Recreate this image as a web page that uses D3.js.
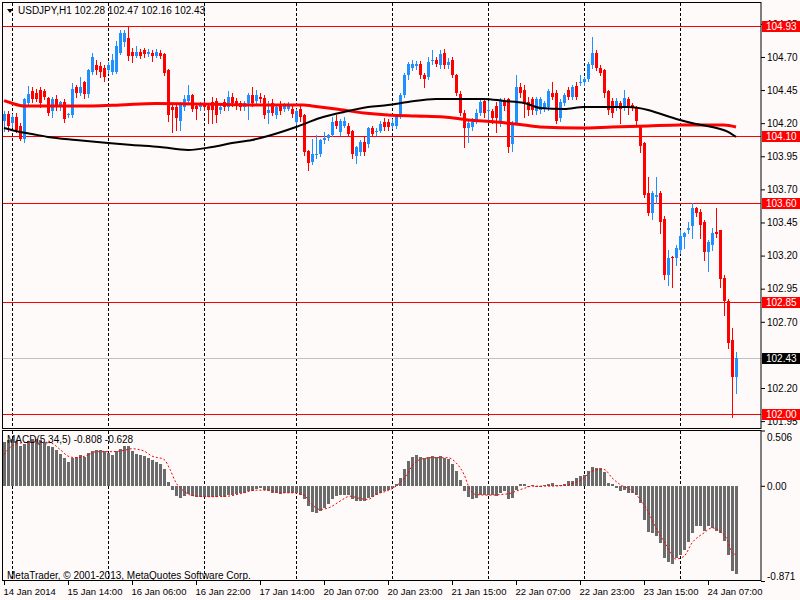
<!DOCTYPE html>
<html>
<head>
<meta charset="utf-8">
<script src="https://cdn.jsdelivr.net/npm/d3@7"></script>
<style>
body { margin: 0; background: #fffafa; }
text { font-family: "Liberation Sans", Arial, sans-serif; }
</style>
</head>
<body>
<div id="chart"></div>
<script>
// hourly candles, bar 0 = 14 Jan 22:00
var opens = [
104.22,104.27,104.20,104.25,104.18,104.08,104.35,104.44,104.43,104.45,
104.44,104.39,104.29,104.38,104.32,104.36,104.26,104.26,104.47,104.43,
104.51,104.42,104.59,104.64,104.63,104.62,104.60,104.59,104.59,104.73,
104.81,104.84,104.74,104.71,104.74,104.75,104.72,104.73,104.71,104.73,
104.72,104.60,104.32,104.32,104.22,104.32,104.37,104.41,104.33,104.32,
104.35,104.33,104.36,104.37,104.30,104.36,104.32,104.40,104.37,104.35,
104.32,104.35,104.41,104.37,104.40,104.39,104.28,104.35,104.26,104.34,
104.31,104.31,104.31,104.21,104.31,104.26,103.99,103.91,103.96,103.97,
104.07,104.09,104.11,104.22,104.13,104.18,104.18,104.14,103.95,103.98,
104.06,104.04,104.16,104.13,104.14,104.21,104.21,104.18,104.18,104.25,
104.41,104.56,104.62,104.63,104.65,104.56,104.55,104.67,104.68,104.64,
104.73,104.64,104.68,104.56,104.42,104.28,104.16,104.17,104.22,104.28,
104.37,104.29,104.29,104.33,104.20,104.37,104.38,104.04,104.20,104.47,
104.45,104.36,104.38,104.29,104.30,104.31,104.32,104.43,104.43,104.24,
104.35,104.45,104.40,104.48,104.50,104.51,104.53,104.64,104.73,104.62,
104.60,104.44,104.37,104.32,104.35,104.32,104.38,104.34,104.32,104.17,
104.05,103.67,103.52,103.64,103.67,103.48,103.05,103.19,103.18,103.24,
103.34,103.39,103.42,103.56,103.53,103.45,103.23,103.28,103.38,103.39,
103.03,102.86,102.56,102.28];
var highs = [
104.29,104.29,104.27,104.28,104.20,104.39,104.48,104.47,104.46,104.47,
104.46,104.40,104.40,104.41,104.37,104.38,104.28,104.50,104.49,104.55,
104.52,104.61,104.73,104.68,104.66,104.64,104.66,104.72,104.82,104.90,
104.90,104.93,104.77,104.78,104.76,104.77,104.76,104.75,104.76,104.75,
104.73,104.61,104.34,104.35,104.36,104.41,104.49,104.42,104.35,104.36,
104.37,104.35,104.40,104.39,104.34,104.38,104.44,104.43,104.39,104.37,
104.37,104.43,104.47,104.45,104.43,104.41,104.37,104.38,104.34,104.37,
104.35,104.36,104.34,104.31,104.33,104.27,104.00,104.08,104.11,104.08,
104.13,104.12,104.25,104.26,104.23,104.25,104.20,104.15,104.03,104.07,
104.10,104.17,104.18,104.16,104.22,104.24,104.23,104.23,104.26,104.43,
104.58,104.66,104.68,104.67,104.67,104.58,104.70,104.75,104.70,104.75,
104.76,104.69,104.70,104.57,104.44,104.30,104.22,104.24,104.31,104.38,
104.39,104.37,104.31,104.36,104.39,104.39,104.39,104.22,104.56,104.50,
104.49,104.40,104.40,104.40,104.40,104.37,104.46,104.51,104.45,104.38,
104.43,104.47,104.49,104.51,104.56,104.55,104.66,104.85,104.75,104.64,
104.61,104.45,104.39,104.39,104.37,104.45,104.40,104.35,104.33,104.18,
104.06,103.79,103.69,103.79,103.69,103.50,103.24,103.20,103.28,103.39,
103.38,103.45,103.60,103.57,103.55,103.47,103.32,103.41,103.56,103.39,
103.05,102.87,102.65,102.47];
var lows = [
104.14,104.14,104.17,104.13,104.07,104.06,104.33,104.36,104.37,104.32,
104.38,104.26,104.25,104.30,104.30,104.21,104.25,104.25,104.40,104.41,
104.39,104.40,104.57,104.57,104.55,104.52,104.58,104.57,104.58,104.72,
104.78,104.68,104.66,104.70,104.69,104.70,104.71,104.67,104.70,104.69,
104.56,104.22,104.13,104.15,104.15,104.30,104.35,104.29,104.23,104.30,
104.30,104.20,104.20,104.21,104.28,104.30,104.30,104.33,104.31,104.30,
104.30,104.23,104.33,104.35,104.36,104.24,104.20,104.26,104.24,104.27,
104.29,104.30,104.25,104.19,104.22,103.96,103.85,103.89,103.94,103.95,
104.05,104.07,104.10,104.16,104.11,104.17,104.10,103.94,103.90,103.96,
103.96,104.02,104.10,104.11,104.13,104.15,104.15,104.16,104.16,104.24,
104.40,104.53,104.60,104.61,104.54,104.47,104.53,104.65,104.63,104.62,
104.62,104.62,104.55,104.41,104.26,104.02,104.06,104.15,104.20,104.26,
104.25,104.22,104.20,104.13,104.18,104.30,103.98,103.99,104.19,104.40,
104.25,104.26,104.27,104.27,104.28,104.29,104.30,104.38,104.20,104.22,
104.34,104.38,104.38,104.38,104.49,104.49,104.52,104.62,104.60,104.56,
104.40,104.27,104.25,104.30,104.20,104.30,104.27,104.30,104.18,103.98,
103.64,103.51,103.48,103.60,103.37,103.02,102.98,102.96,103.13,103.22,
103.26,103.37,103.33,103.50,103.33,103.17,103.08,103.24,103.34,102.96,
102.75,102.50,101.98,102.16];
var closes = [
104.27,104.18,104.25,104.15,104.08,104.38,104.42,104.38,104.38,104.35,
104.40,104.28,104.38,104.33,104.36,104.23,104.27,104.46,104.43,104.47,
104.42,104.60,104.70,104.60,104.59,104.55,104.64,104.68,104.78,104.88,
104.88,104.71,104.71,104.74,104.71,104.72,104.74,104.71,104.74,104.71,
104.58,104.26,104.30,104.24,104.34,104.38,104.41,104.31,104.31,104.34,
104.32,104.30,104.30,104.26,104.32,104.32,104.40,104.35,104.34,104.32,
104.35,104.41,104.35,104.41,104.38,104.26,104.30,104.28,104.32,104.29,
104.33,104.33,104.27,104.29,104.25,103.98,103.90,103.97,103.97,104.07,
104.09,104.11,104.21,104.18,104.22,104.22,104.12,103.97,104.02,104.06,
103.98,104.16,104.12,104.14,104.19,104.17,104.17,104.20,104.25,104.41,
104.56,104.65,104.65,104.65,104.56,104.53,104.66,104.68,104.65,104.72,
104.64,104.66,104.56,104.43,104.28,104.16,104.20,104.21,104.28,104.36,
104.28,104.30,104.24,104.24,104.37,104.33,104.02,104.20,104.47,104.43,
104.35,104.30,104.30,104.38,104.38,104.35,104.44,104.40,104.22,104.36,
104.41,104.40,104.47,104.40,104.51,104.53,104.65,104.73,104.62,104.58,
104.43,104.30,104.28,104.37,104.31,104.39,104.32,104.32,104.22,104.03,
103.66,103.52,103.67,103.66,103.45,103.05,103.18,103.18,103.26,103.35,
103.37,103.41,103.56,103.52,103.43,103.23,103.30,103.37,103.36,103.02,
102.86,102.54,102.28,102.43];

// moving averages, read as [bar, price]
var maRed = [[0,104.37],[2,104.35],[5,104.33],[22,104.33],[29,104.337],[38,104.349],[66,104.337],
[75,104.337],[77,104.33],[83,104.307],[90,104.277],[96,104.262],[103,104.254],[110,104.247],
[116,104.224],[123,104.209],[130,104.186],[134,104.171],[144,104.164],[152,104.171],
[161,104.179],[169,104.186],[180,104.186],[183,104.171]];
var maBlack = [[0,104.164],[4,104.134],[7,104.118],[11,104.096],[18,104.073],[26,104.05],
[32,104.035],[39,104.02],[46,103.998],[52,104.02],[57,104.05],[62,104.073],[66,104.103],
[73,104.171],[79,104.239],[85,104.285],[91,104.322],[96,104.337],[101,104.36],[108,104.383],
[113,104.383],[120,104.383],[125,104.368],[130,104.353],[134,104.315],[140,104.307],
[145,104.322],[152,104.322],[156,104.322],[161,104.30],[165,104.262],[169,104.224],
[173,104.194],[177,104.171],[181,104.134],[183,104.096]];

// MACD(5,34,5) histogram per bar
var macd = [
0.40,0.42,0.425,0.41,0.365,0.385,0.41,0.425,0.425,0.415,
0.395,0.365,0.355,0.33,0.295,0.255,0.22,0.255,0.265,0.278,
0.268,0.30,0.318,0.33,0.324,0.318,0.303,0.285,0.318,0.34,
0.364,0.364,0.318,0.294,0.285,0.272,0.251,0.239,0.22,0.196,
0.15,0.037,-0.034,-0.095,-0.11,-0.095,-0.073,-0.089,-0.104,-0.104,
-0.104,-0.104,-0.104,-0.104,-0.095,-0.104,-0.08,-0.08,-0.073,-0.064,
-0.064,-0.049,-0.043,-0.028,-0.018,-0.034,-0.049,-0.064,-0.07,-0.073,
-0.07,-0.07,-0.07,-0.07,-0.08,-0.125,-0.187,-0.239,-0.248,-0.226,
-0.202,-0.171,-0.125,-0.095,-0.08,-0.08,-0.086,-0.125,-0.141,-0.141,
-0.135,-0.116,-0.104,-0.086,-0.064,-0.049,-0.034,-0.018,0.012,0.07,
0.15,0.226,0.263,0.278,0.263,0.257,0.266,0.269,0.263,0.269,
0.257,0.242,0.202,0.135,0.049,-0.049,-0.104,-0.125,-0.116,-0.086,
-0.08,-0.086,-0.08,-0.095,-0.064,-0.049,-0.125,-0.11,-0.034,0.012,
0.012,-0.012,0.003,-0.012,-0.003,0.006,0.018,0.028,0.005,0.006,
0.018,0.043,0.043,0.067,0.089,0.098,0.135,0.174,0.165,0.159,
0.128,0.028,0.012,-0.024,-0.043,-0.034,-0.064,-0.064,-0.086,-0.156,
-0.309,-0.425,-0.431,-0.462,-0.523,-0.66,-0.697,-0.716,-0.66,-0.63,
-0.584,-0.514,-0.431,-0.37,-0.37,-0.41,-0.37,-0.385,-0.416,-0.431,
-0.508,-0.636,-0.783,-0.808];
// signal line, read as [bar, value]
var signal = [[0,0.287],[1.5,0.35],[4,0.39],[7,0.40],[11.5,0.394],[14,0.333],[16,0.272],
[18,0.257],[21,0.281],[23,0.312],[26.5,0.312],[30,0.324],[32,0.339],[35,0.318],[37,0.272],
[40,0.242],[41.5,0.15],[43,0.028],[45,-0.049],[47,-0.089],[51,-0.1],[56,-0.095],[59,-0.073],
[63,-0.04],[66,-0.04],[69,-0.064],[72,-0.064],[75,-0.086],[77,-0.171],[79,-0.217],
[81.5,-0.196],[84,-0.141],[86.5,-0.095],[89,-0.116],[91,-0.125],[93,-0.08],[96,-0.043],
[98,-0.003],[100.5,0.09],[102,0.18],[104,0.24],[107,0.257],[111,0.257],[113,0.211],
[115,0.104],[116.5,-0.034],[118,-0.08],[121.5,-0.086],[124,-0.08],[126.5,-0.07],
[128,-0.049],[130,-0.024],[132,-0.003],[136.5,-0.003],[140,0.003],[142,0.018],[145,0.073],
[147,0.135],[150,0.15],[152,0.073],[154,0.012],[156.5,-0.034],[158,-0.08],[160.5,-0.202],
[163,-0.385],[165.5,-0.538],[168,-0.67],[170,-0.645],[172,-0.523],[175,-0.431],
[177,-0.385],[179,-0.416],[181,-0.508],[182,-0.615],[183,-0.628]];

var levels = [104.93, 104.10, 103.60, 102.85, 102.00];
var bid = 102.43;
// 102.45 sits fully under the bid box, so it is left out
var priceTicks = [101.95,102.20,102.70,102.95,103.20,103.45,103.70,103.95,104.20,104.45,104.70,104.95];
var macdTicks = [0.506, 0, -0.871];
var sepBars = [2, 26, 50, 73, 97, 121, 145, 169];
var timeBars = [0,16,32,48,64,80,96,112,128,144,160,176];
var timeLabels = ["14 Jan 2014","15 Jan 14:00","16 Jan 06:00","16 Jan 22:00","17 Jan 14:00",
"20 Jan 07:00","20 Jan 23:00","21 Jan 15:00","22 Jan 07:00","22 Jan 23:00","23 Jan 15:00","24 Jan 07:00"];

var plotRight = 761;

var svg = d3.select("#chart")
  .append("svg")
  .attr("width", 800)
  .attr("height", 600);

svg.append("rect").attr("width", 800).attr("height", 600).attr("fill", "#fffafa");

var x = d3.scaleLinear().domain([0, 183]).range([4, 736]);
var y = d3.scaleLinear().domain([101.898, 105.115]).range([428, 2]);
var ym = d3.scaleLinear().domain([-0.871, 0.506]).range([581, 430.5]);

// day separators
sepBars.forEach(function(b){
  var sx = Math.round(x(b)) + 0.5;
  [[3, 428], [431, 581]].forEach(function(r){
    svg.append("line")
      .attr("x1", sx).attr("x2", sx).attr("y1", r[0]).attr("y2", r[1])
      .attr("stroke", "#000").attr("stroke-dasharray", "3,2");
  });
});

// levels + bid line
svg.append("line")
  .attr("x1", 3).attr("x2", plotRight)
  .attr("y1", Math.round(y(bid)) + 0.5).attr("y2", Math.round(y(bid)) + 0.5)
  .attr("stroke", "#c0c0c0");
svg.selectAll("line.level")
  .data(levels)
  .join("line")
  .attr("class", "level")
  .attr("x1", 3).attr("x2", plotRight)
  .attr("y1", d => Math.round(y(d)) + 0.5)
  .attr("y2", d => Math.round(y(d)) + 0.5)
  .attr("stroke", "#ff0000");

// candles
var bars = d3.range(opens.length);
var up = i => closes[i] >= opens[i];
var cg = svg.append("g").attr("shape-rendering", "crispEdges");
cg.selectAll("line")
  .data(bars)
  .join("line")
  .attr("x1", i => Math.round(x(i)) + 0.5)
  .attr("x2", i => Math.round(x(i)) + 0.5)
  .attr("y1", i => Math.round(y(highs[i])))
  .attr("y2", i => Math.round(y(lows[i])) + 1)
  .attr("stroke", i => up(i) ? "#1e90ff" : "#ff0000");
cg.selectAll("rect")
  .data(bars)
  .join("rect")
  .attr("x", i => Math.round(x(i)) - 1)
  .attr("width", 3)
  .attr("y", i => Math.round(y(Math.max(opens[i], closes[i]))))
  .attr("height", i => Math.max(1, Math.round(y(Math.min(opens[i], closes[i]))) - Math.round(y(Math.max(opens[i], closes[i])))))
  .attr("fill", i => up(i) ? "#1e90ff" : "#ff0000");

// moving averages
var line = d3.line().x(d => x(d[0])).y(d => y(d[1])).curve(d3.curveMonotoneX);
svg.append("path").datum(maRed).attr("d", line)
  .attr("fill", "none").attr("stroke", "#ff0000").attr("stroke-width", 3);
svg.append("path").datum(maBlack).attr("d", line)
  .attr("fill", "none").attr("stroke", "#000").attr("stroke-width", 2);

// MACD histogram
svg.append("g").attr("shape-rendering", "crispEdges")
  .selectAll("rect")
  .data(macd)
  .join("rect")
  .attr("x", (d, i) => Math.round(x(i)) - 1)
  .attr("width", 3)
  .attr("y", d => Math.round(ym(Math.max(d, 0))))
  .attr("height", d => Math.max(1, Math.abs(Math.round(ym(d)) - Math.round(ym(0)))))
  .attr("fill", "#6b6b6b");

var sline = d3.line().x(d => x(d[0])).y(d => ym(d[1])).curve(d3.curveMonotoneX);
svg.append("path").datum(signal).attr("d", sline)
  .attr("fill", "none").attr("stroke", "#ff0000").attr("stroke-width", 1)
  .attr("stroke-dasharray", "2,2");

// panel frames
svg.append("rect").attr("x", 2.5).attr("y", 2.5).attr("width", plotRight - 2.5).attr("height", 426)
  .attr("fill", "none").attr("stroke", "#000");
svg.append("rect").attr("x", 2.5).attr("y", 430.5).attr("width", plotRight - 2.5).attr("height", 150)
  .attr("fill", "none").attr("stroke", "#000");

// price axis
var pAxis = svg.append("g")
  .attr("transform", `translate(${plotRight},0)`)
  .call(d3.axisRight(y).tickValues(priceTicks).tickSize(4).tickPadding(2).tickFormat(d3.format(".2f")));
pAxis.select(".domain").remove();
pAxis.selectAll("text").attr("font-size", "10px").attr("font-family", "Liberation Sans, Arial, sans-serif").attr("fill", "#000");

// level and bid labels
var boxes = levels.map(d => [d, "#ff0000"]).concat([[bid, "#000"]]);
svg.selectAll("rect.lbl")
  .data(boxes)
  .join("rect")
  .attr("class", "lbl")
  .attr("x", plotRight + 1)
  .attr("y", d => Math.round(y(d[0])) - 5)
  .attr("width", 38)
  .attr("height", 11)
  .attr("fill", d => d[1]);
svg.selectAll("text.lbl")
  .data(boxes)
  .join("text")
  .attr("class", "lbl")
  .attr("x", plotRight + 5)
  .attr("y", d => Math.round(y(d[0])) + 4)
  .attr("fill", "#fff")
  .style("font-size", "10px")
  .text(d => d[0].toFixed(2));

// MACD axis
var mAxis = svg.append("g")
  .attr("transform", `translate(${plotRight},0)`)
  .call(d3.axisRight(ym).tickValues(macdTicks).tickSize(4).tickPadding(2)
    .tickFormat(d => d === 0 ? "0.00" : d.toFixed(3)));
mAxis.select(".domain").remove();
mAxis.selectAll("text").attr("font-size", "10px").attr("font-family", "Liberation Sans, Arial, sans-serif").attr("fill", "#000")
  .attr("dy", d => d > 0 ? "1em" : (d < 0 ? "-0.2em" : "0.32em"));

// time axis
var tAxis = svg.append("g")
  .attr("transform", "translate(0,581)")
  .call(d3.axisBottom(x).tickValues(timeBars).tickSize(4).tickPadding(3)
    .tickFormat((d, i) => timeLabels[i]));
tAxis.select(".domain").remove();
tAxis.selectAll("text").attr("font-size", "9.5px").attr("font-family", "Liberation Sans, Arial, sans-serif")
  .attr("fill", "#000").attr("text-anchor", "start").attr("x", -1);

// titles
svg.append("path").attr("d", "M7,9 L13,9 L10,13 Z").attr("fill", "#000");
svg.append("text").attr("x", 18).attr("y", 14).style("font-size", "10px")
  .text("USDJPY,H1  102.28 102.47 102.16 102.43");
svg.append("text").attr("x", 7).attr("y", 443).style("font-size", "10px")
  .text("MACD(5,34,5) -0.808 -0.628");
svg.append("text").attr("x", 7).attr("y", 579).style("font-size", "10px")
  .text("MetaTrader, © 2001-2013, MetaQuotes Software Corp.");
</script>
</body>
</html>
